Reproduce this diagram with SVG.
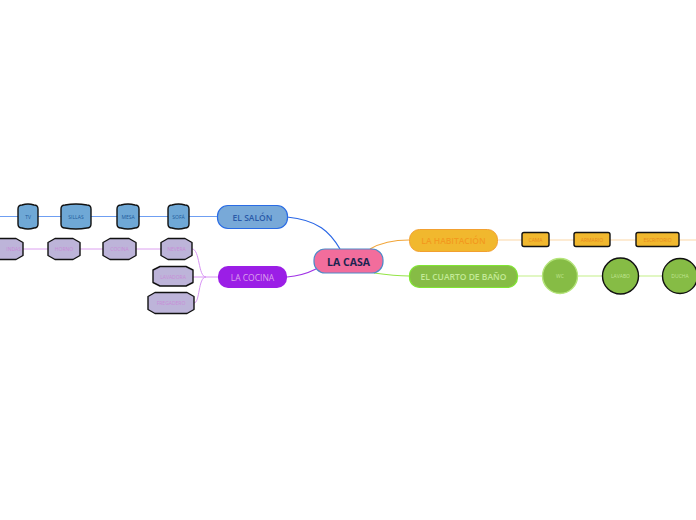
<svg xmlns="http://www.w3.org/2000/svg" width="696" height="520" viewBox="0 0 696 520">
<style>
text{font-family:"Open Sans","Liberation Sans",sans-serif;text-anchor:middle;dominant-baseline:central}
.main{font-size:8.5px;font-weight:600}
.sm{font-size:5px}
.blue{fill:#6fa8d6;stroke:#111;stroke-width:1.4}
.hex{fill:#bdb4d9;stroke:#111;stroke-width:1.4;stroke-linejoin:round}
.hab{fill:#f1b82e;stroke:#111;stroke-width:1.4}
.circ{fill:#86bc45}
.line{fill:none}
</style>
<rect width="696" height="520" fill="#ffffff"/>
<g id="connectors">
<path class="line" d="M0,216.5 H218" stroke="#6f9ff2" stroke-width="1"/>
<path class="line" d="M0,249 H161" stroke="#dca0f0" stroke-width="1"/>
<path class="line" d="M218,277 H206 C198,277 200,249 192,249" stroke="#d894f4" stroke-width="1"/>
<path class="line" d="M206,277 H193" stroke="#d894f4" stroke-width="1"/>
<path class="line" d="M206,277 C198,277 200,303 194,303" stroke="#d894f4" stroke-width="1"/>
<path class="line" d="M287,217 C318,220 330,232 340,249" stroke="#2a67e6" stroke-width="1.2"/>
<path class="line" d="M287,277 C300,276 308,273 316,269" stroke="#a032e6" stroke-width="1.2"/>
<path class="line" d="M370,249 C382,242 395,240 409,240" stroke="#f2a63a" stroke-width="1.2"/>
<path class="line" d="M374,273 C388,275 398,276 409,276" stroke="#94e446" stroke-width="1.2"/>
<path class="line" d="M497,240 H696" stroke="#fcd8a8" stroke-width="1.2"/>
<path class="line" d="M518,276 H662" stroke="#c4f088" stroke-width="1.2"/>
</g>
<g id="la-casa">
<rect x="314" y="249" width="69" height="24" rx="11" fill="#f26d9c" stroke="#4f8ac8" stroke-width="1.2"/>
<text x="348.5" y="261.5" style="font-size:10.5px;font-weight:700" fill="#1b2450">LA CASA</text>
</g>
<g id="el-salon">
<rect x="217.5" y="205.5" width="70" height="23" rx="10.5" fill="#78a9d8" stroke="#2a6ce4" stroke-width="1.2"/>
<text x="252.5" y="217.5" class="main" fill="#2a5aa8">EL SALÓN</text>
</g>
<g id="tv">
<path class="blue" d="M18,209 Q18,205 22,205 Q28,203 34,205 Q38,205 38,209 L38,224 Q38,228 34,228 Q28,230 22,228 Q18,228 18,224 Z"/>
<text x="28" y="216.5" class="sm" fill="#1e5a9a">TV</text>
</g>
<g id="sillas">
<path class="blue" d="M61,209 Q61,205 65,205 Q76,203 87,205 Q91,205 91,209 L91,224 Q91,228 87,228 Q76,230 65,228 Q61,228 61,224 Z"/>
<text x="76" y="216.5" class="sm" fill="#1e5a9a">SILLAS</text>
</g>
<g id="mesa">
<path class="blue" d="M117,209 Q117,205 121,205 Q128,203 135,205 Q139,205 139,209 L139,224 Q139,228 135,228 Q128,230 121,228 Q117,228 117,224 Z"/>
<text x="128" y="216.5" class="sm" fill="#1e5a9a">MESA</text>
</g>
<g id="sofa">
<path class="blue" d="M168,209 Q168,205 172,205 Q178.5,203 185,205 Q189,205 189,209 L189,224 Q189,228 185,228 Q178.5,230 172,228 Q168,228 168,224 Z"/>
<text x="178.5" y="216.5" class="sm" fill="#1e5a9a">SOFÁ</text>
</g>
<g id="la-cocina">
<rect x="218" y="266" width="69" height="22" rx="10" fill="#9b1ee6"/>
<text x="252.5" y="277" class="main" fill="#dca0ec" style="font-weight:400">LA COCINA</text>
</g>
<g id="indas">
<polygon class="hex" points="-20,242.5 -13,238.5 16,238.5 23,242.5 23,255.5 16,259.5 -13,259.5 -20,255.5"/>
<text x="21" y="249" class="sm" fill="#c88cd8" style="text-anchor:end">INDAS</text>
</g>
<g id="horno">
<polygon class="hex" points="48,242.5 55,238.5 73,238.5 80,242.5 80,255.5 73,259.5 55,259.5 48,255.5"/>
<text x="64" y="249" class="sm" fill="#c88cd8">HORNO</text>
</g>
<g id="cocina">
<polygon class="hex" points="103,242.5 110,238.5 129,238.5 136,242.5 136,255.5 129,259.5 110,259.5 103,255.5"/>
<text x="119.5" y="249" class="sm" fill="#c88cd8">COCINA</text>
</g>
<g id="nevera">
<polygon class="hex" points="161,242.5 168,238.5 185,238.5 192,242.5 192,255.5 185,259.5 168,259.5 161,255.5"/>
<text x="176.5" y="249" class="sm" fill="#c88cd8">NEVERA</text>
</g>
<g id="lavadora">
<polygon class="hex" points="153,270 160,266.5 186,266.5 193,270 193,282.5 186,286 160,286 153,282.5"/>
<text x="173" y="276.5" class="sm" fill="#c88cd8">LAVADORA</text>
</g>
<g id="fregadero">
<polygon class="hex" points="148,296.5 155,292.5 187,292.5 194,296.5 194,309.5 187,313.5 155,313.5 148,309.5"/>
<text x="171" y="303" class="sm" fill="#c88cd8">FREGADERO</text>
</g>
<g id="la-habitacion">
<rect x="409.5" y="229.5" width="88" height="22" rx="10" fill="#f1b82e" stroke="#f2a030" stroke-width="1"/>
<text x="453.5" y="240.5" class="main" fill="#f39a1e">LA HABITACIÓN</text>
</g>
<g id="cama">
<rect class="hab" x="522" y="232.5" width="27" height="14" rx="2"/>
<text x="535.5" y="239.5" class="sm" fill="#e8881e">CAMA</text>
</g>
<g id="armario">
<rect class="hab" x="574" y="232.5" width="36" height="14" rx="2"/>
<text x="592" y="239.5" class="sm" fill="#e8881e">ARMARIO</text>
</g>
<g id="escritorio">
<rect class="hab" x="636" y="232.5" width="43" height="14" rx="2"/>
<text x="657.5" y="239.5" class="sm" fill="#e8881e">ESCRITORIO</text>
</g>
<g id="el-cuarto-de-bano">
<rect x="409.5" y="265.5" width="108" height="22" rx="10" fill="#86bc45" stroke="#80e632" stroke-width="1.2"/>
<text x="463.5" y="276.5" class="main" fill="#c4ea98">EL CUARTO DE BAÑO</text>
</g>
<g id="wc">
<circle class="circ" cx="560" cy="276" r="17.5" stroke="#b4e47a" stroke-width="1.4"/>
<text x="560" y="276" class="sm" fill="#c0e494">WC</text>
</g>
<g id="lavabo">
<circle class="circ" cx="620.5" cy="276" r="18" stroke="#111" stroke-width="1.4"/>
<text x="620.5" y="276" class="sm" fill="#c0e494">LAVABO</text>
</g>
<g id="ducha">
<circle class="circ" cx="680" cy="276" r="17.5" stroke="#111" stroke-width="1.4"/>
<text x="680" y="276" class="sm" fill="#c0e494">DUCHA</text>
</g>
</svg>
